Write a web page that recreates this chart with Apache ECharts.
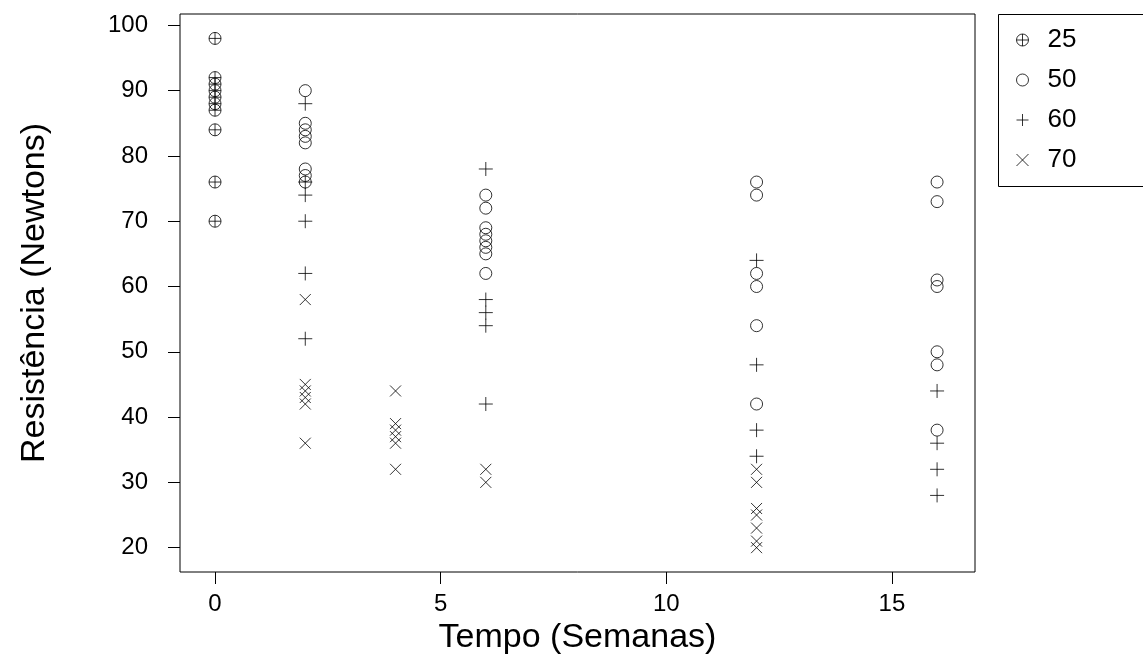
<!DOCTYPE html>
<html>
<head>
<meta charset="utf-8">
<script src="https://cdn.jsdelivr.net/npm/echarts@6/dist/echarts.min.js"></script>
<style>
html,body{margin:0;padding:0;background:#fff;}
#chart{width:1143px;height:669px;}
</style>
</head>
<body>
<div id="chart"></div>
<script>
// ---- data ----
const seriesNames = ['25', '50', '60', '70'];
const xTicks = [0, 5, 10, 15];
const yTicks = [20, 30, 40, 50, 60, 70, 80, 90, 100];
// [semanas, resistência]
const temp25 = [[0,98],[0,92],[0,91],[0,90],[0,89],[0,88],[0,87],[0,84],[0,76],[0,70]];
const temp50 = [
  [2,90],[2,85],[2,84],[2,83],[2,82],[2,78],[2,77],[2,76],
  [6,74],[6,72],[6,69],[6,68],[6,67],[6,66],[6,65],[6,62],
  [12,76],[12,74],[12,62],[12,60],[12,54],[12,42],
  [16,76],[16,73],[16,61],[16,60],[16,50],[16,48],[16,38]
];
const temp60 = [
  [2,88],[2,76],[2,74],[2,70],[2,62],[2,52],
  [6,78],[6,58],[6,56],[6,54],[6,42],
  [12,64],[12,48],[12,38],[12,34],
  [16,44],[16,36],[16,32],[16,28]
];
const temp70 = [
  [2,58],[2,45],[2,44],[2,43],[2,42],[2,36],
  [4,44],[4,39],[4,38],[4,37],[4,36],[4,32],
  [6,32],[6,30],
  [12,32],[12,30],[12,26],[12,25],[12,23],[12,21],[12,20]
];

// ---- symbols (R pch 10, 1, 3, 4) ----
const symOPlus = 'path://M0,-10A10,10,0,1,1,0,10A10,10,0,1,1,0,-10ZM-10,0L10,0M0,-10L0,10';
const symCircle = 'path://M0,-10A10,10,0,1,1,0,10A10,10,0,1,1,0,-10Z';
const symPlus = 'path://M-10,0L10,0M0,-10L0,10';
const symCross = 'path://M-10,-10L10,10M-10,10L10,-10';
const symbols = [symOPlus, symCircle, symPlus, symCross];
const sizes = [12, 12, 14, 11];
const datasets = [temp25, temp50, temp60, temp70];

const lineStyle = {color: 'transparent', borderColor: '#000', borderWidth: 1};
const FONT = 'Liberation Sans, Arial, sans-serif';

const chart = echarts.init(document.getElementById('chart'), null, {renderer: 'canvas'});
const option = {
  animation: false,
  backgroundColor: '#fff',
  textStyle: {fontFamily: FONT, color: '#000'},
  grid: {left: 180, top: 14, width: 795, height: 558, show: true, borderColor: '#000', borderWidth: 1, backgroundColor: 'transparent'},
  xAxis: {
    type: 'value', min: -0.776, max: 16.84,
    name: 'Tempo (Semanas)', nameLocation: 'middle', nameGap: 49,
    nameTextStyle: {fontSize: 34, color: '#000', fontFamily: FONT},
    axisLine: {show: false, onZero: false},
    axisTick: {show: true, inside: false, length: 12, lineStyle: {color: '#000'}, customValues: xTicks},
    axisLabel: {show: true, fontSize: 24, color: '#000', margin: 20, customValues: xTicks, fontFamily: FONT},
    splitLine: {show: false}
  },
  yAxis: {
    type: 'value', min: 16.27, max: 101.74,
    name: 'Resistência (Newtons)', nameLocation: 'middle', nameGap: 128, nameRotate: 90,
    nameTextStyle: {fontSize: 34, color: '#000', fontFamily: FONT},
    axisLine: {show: false, onZero: false},
    axisTick: {show: true, inside: false, length: 12, lineStyle: {color: '#000'}, customValues: yTicks},
    axisLabel: {show: true, fontSize: 24, color: '#000', margin: 32, customValues: yTicks, fontFamily: FONT},
    splitLine: {show: false}
  },
  legend: {
    orient: 'vertical', left: 1011, top: 22, itemGap: 14,
    itemWidth: 12, itemHeight: 12,
    textStyle: {fontSize: 26, lineHeight: 26, color: '#000', padding: [0, 0, 0, 14]},
    data: seriesNames.map((n, i) => ({name: n, icon: symbols[i], itemStyle: lineStyle}))
  },
  graphic: [{
    type: 'rect', left: 998, top: 14, shape: {width: 200, height: 172},
    style: {fill: 'transparent', stroke: '#000', lineWidth: 1}, silent: true
  }],
  series: seriesNames.map((n, i) => ({
    name: n, type: 'scatter', data: datasets[i],
    symbol: symbols[i], symbolSize: sizes[i],
    itemStyle: lineStyle
  }))
};
chart.setOption(option);
</script>
</body>
</html>
